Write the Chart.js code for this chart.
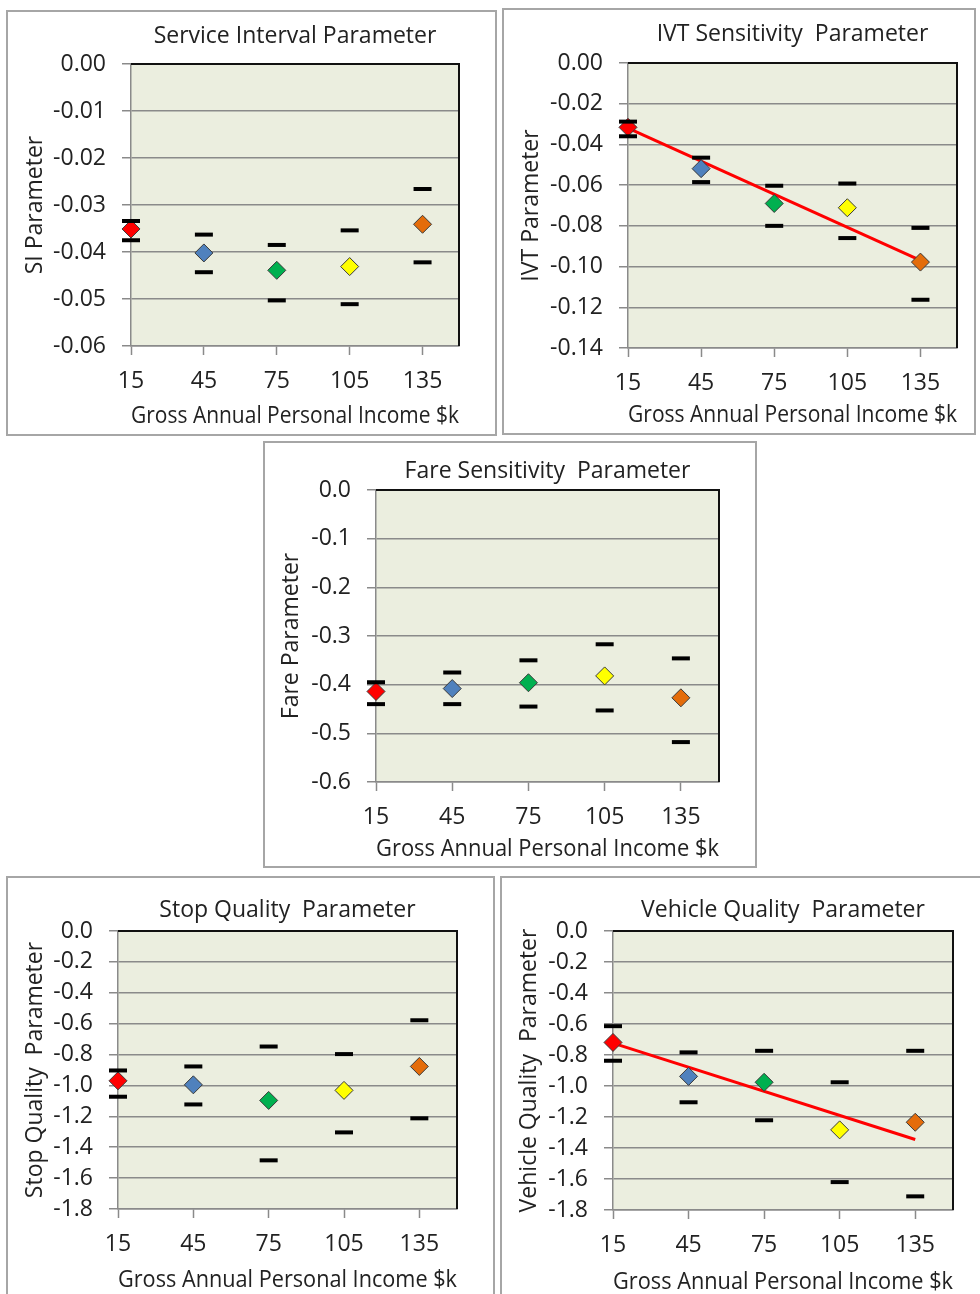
<!DOCTYPE html>
<html>
<head>
<meta charset="utf-8">
<script src="https://cdn.jsdelivr.net/npm/chart.js@4.4.0/dist/chart.umd.min.js"></script>
<style>
  body { margin: 0; background: #fff; width: 980px; height: 1294px; overflow: hidden; position: relative; }
  .panel { position: absolute; }
  .panel canvas { position: absolute; left: 0; top: 0; }
  .frame { position: absolute; left: 0; top: 0; right: 0; bottom: 0; border: 2px solid #a6a6a6; box-sizing: border-box; pointer-events: none; }
</style>
</head>
<body>
<div class="panel" id="p1"><canvas id="c1"></canvas><div class="frame"></div></div>
<div class="panel" id="p2"><canvas id="c2"></canvas><div class="frame"></div></div>
<div class="panel" id="p3"><canvas id="c3"></canvas><div class="frame"></div></div>
<div class="panel" id="p4"><canvas id="c4"></canvas><div class="frame"></div></div>
<div class="panel" id="p5"><canvas id="c5"></canvas><div class="frame"></div></div>
<script>
// income groups ($k)
const incomeK = [15, 45, 75, 105, 135];
const pointColors = ['#ff0000', '#4f81bd', '#00b050', '#ffff00', '#e46c0a'];
const xAxisTitle = 'Gross Annual Personal Income $k';

// service interval
const siEst  = [-0.0351, -0.0402, -0.0439, -0.0431, -0.0341];
const siHigh = [-0.0334, -0.0363, -0.0385, -0.0354, -0.0266];
const siLow  = [-0.0375, -0.0443, -0.0503, -0.0511, -0.0422];
const siTicks = [0, -0.01, -0.02, -0.03, -0.04, -0.05, -0.06];

// in-vehicle time
const ivtEst  = [-0.0316, -0.0519, -0.0690, -0.0711, -0.0978];
const ivtHigh = [-0.0288, -0.0465, -0.0603, -0.0592, -0.0810];
const ivtLow  = [-0.0360, -0.0585, -0.0800, -0.0860, -0.1163];
const ivtTrendX = [15, 135];
const ivtTrendY = [-0.032, -0.097];
const ivtTicks = [0, -0.02, -0.04, -0.06, -0.08, -0.10, -0.12, -0.14];

// fare
const fareEst  = [-0.414, -0.408, -0.396, -0.382, -0.427];
const fareHigh = [-0.395, -0.375, -0.350, -0.317, -0.346];
const fareLow  = [-0.440, -0.440, -0.445, -0.453, -0.518];
const fareTicks = [0, -0.1, -0.2, -0.3, -0.4, -0.5, -0.6];

// stop quality
const stopEst  = [-0.970, -0.996, -1.097, -1.032, -0.877];
const stopHigh = [-0.903, -0.877, -0.748, -0.797, -0.578];
const stopLow  = [-1.073, -1.123, -1.485, -1.304, -1.213];

// vehicle quality
const vehEst  = [-0.719, -0.938, -0.976, -1.283, -1.234];
const vehHigh = [-0.614, -0.783, -0.773, -0.976, -0.773];
const vehLow  = [-0.837, -1.105, -1.221, -1.620, -1.712];
const vehTrendX = [15, 135];
const vehTrendY = [-0.723, -1.345];
const qualityTicks = [0, -0.2, -0.4, -0.6, -0.8, -1.0, -1.2, -1.4, -1.6, -1.8];

const FONT = '"Open Sans", "DejaVu Sans", sans-serif';
const FS = 23;
const TXT = '#222';
const GRID = '#8a8a8a';

function pts(xs, ys) {
  return xs.map((x, i) => ({ x: x, y: ys[i] }));
}

// plot background + dark top/right border
const plotFrame = {
  id: 'plotFrame',
  beforeDraw(chart) {
    const a = chart.chartArea, ctx = chart.ctx;
    ctx.save();
    ctx.fillStyle = '#ebeedf';
    ctx.fillRect(a.left, a.top, a.right - a.left, a.bottom - a.top);
    ctx.restore();
  },
  beforeDatasetsDraw(chart) {
    const a = chart.chartArea, ctx = chart.ctx;
    ctx.save();
    ctx.strokeStyle = '#111';
    ctx.lineWidth = 2;
    ctx.beginPath();
    ctx.moveTo(a.left, a.top);
    ctx.lineTo(a.right, a.top);
    ctx.lineTo(a.right, a.bottom);
    ctx.stroke();
    ctx.restore();
  }
};

function makePanel(p) {
  const div = document.getElementById(p.div);
  div.style.left = p.box[0] + 'px';
  div.style.top = p.box[1] + 'px';
  div.style.width = p.box[2] + 'px';
  div.style.height = p.box[3] + 'px';
  const cv = document.getElementById(p.canvas);
  cv.width = p.box[2];
  cv.height = p.box[3];

  const lh = FS * 1.2;
  const datasets = [];
  if (p.trendX) {
    datasets.push({
      data: pts(p.trendX, p.trendY),
      showLine: true,
      borderColor: '#ff0000',
      borderWidth: 3,
      pointRadius: 0,
      clip: false,
      order: 3
    });
  }
  datasets.push({
    data: pts(incomeK, p.est),
    pointStyle: 'rectRot',
    pointRadius: 9,
    pointBackgroundColor: pointColors,
    pointBorderColor: '#3a3a3a',
    pointBorderWidth: 1,
    clip: false,
    order: 2
  });
  [p.high, p.low].forEach(arr => {
    datasets.push({
      data: pts(incomeK, arr),
      pointStyle: 'line',
      pointRadius: 9,
      pointBorderColor: '#000',
      pointBorderWidth: 4,
      clip: false,
      order: 1
    });
  });

  const yTicks = p.ticks;
  new Chart(cv, {
    type: 'scatter',
    data: { datasets: datasets },
    plugins: [plotFrame],
    options: {
      responsive: false,
      animation: false,
      devicePixelRatio: 1,
      layout: { padding: { left: 0, top: 0, right: p.inset[2], bottom: 0 } },
      plugins: {
        legend: { display: false },
        tooltip: { enabled: false },
        title: {
          display: true,
          text: p.title,
          fullSize: false,
          color: TXT,
          font: { family: FONT, size: FS, weight: 'normal' },
          padding: { top: p.titleY - lh / 2, bottom: p.inset[1] - p.titleY - lh / 2 }
        }
      },
      scales: {
        x: {
          type: 'linear',
          min: 15,
          max: 150,
          afterBuildTicks: s => { s.ticks = incomeK.map(v => ({ value: v })); },
          afterFit: s => { s.height = p.inset[3]; },
          grid: { drawOnChartArea: false, drawTicks: true, tickLength: 9, tickColor: GRID, tickWidth: 1.5 },
          border: { color: GRID, width: 1.5 },
          ticks: { color: TXT, padding: 12.5, font: { family: FONT, size: FS } },
          title: {
            display: true,
            text: xAxisTitle,
            color: TXT,
            font: { family: FONT, size: FS },
            padding: { top: 0, bottom: p.xTitleOff - lh / 2 }
          }
        },
        y: {
          type: 'linear',
          min: Math.min(...yTicks),
          max: Math.max(...yTicks),
          afterBuildTicks: s => { s.ticks = yTicks.map(v => ({ value: v })); },
          afterFit: s => { s.width = p.inset[0]; },
          grid: { color: GRID, lineWidth: 1.5, drawTicks: true, tickLength: 9, tickColor: GRID },
          border: { color: GRID, width: 1.5 },
          ticks: {
            color: TXT,
            padding: 16,
            font: { family: FONT, size: FS },
            callback: v => Number(v).toFixed(p.dec)
          },
          title: {
            display: true,
            text: p.yTitle,
            color: TXT,
            font: { family: FONT, size: FS },
            padding: { top: p.yTitleX - lh / 2, bottom: 0 }
          }
        }
      }
    }
  });
}

makePanel({ div: 'p1', canvas: 'c1', box: [6, 10, 491, 426], inset: [125, 54, 38, 90],
  titleY: 26.7, yTitleX: 29, xTitleOff: 19.3,
  title: 'Service Interval Parameter', yTitle: 'SI Parameter',
  est: siEst, high: siHigh, low: siLow, ticks: siTicks, dec: 2 });

makePanel({ div: 'p2', canvas: 'c2', box: [502, 8, 474, 427], inset: [126, 55, 19, 87],
  titleY: 26.7, yTitleX: 29.7, xTitleOff: 20,
  title: 'IVT Sensitivity  Parameter', yTitle: 'IVT Parameter',
  est: ivtEst, high: ivtHigh, low: ivtLow, ticks: ivtTicks, dec: 2,
  trendX: ivtTrendX, trendY: ivtTrendY });

makePanel({ div: 'p3', canvas: 'c3', box: [263, 441, 494, 427], inset: [113, 49, 38, 86],
  titleY: 30.3, yTitleX: 28.4, xTitleOff: 18.3,
  title: 'Fare Sensitivity  Parameter', yTitle: 'Fare Parameter',
  est: fareEst, high: fareHigh, low: fareLow, ticks: fareTicks, dec: 1 });

makePanel({ div: 'p4', canvas: 'c4', box: [6, 876, 489, 422], inset: [112, 55, 38, 89],
  titleY: 34, yTitleX: 29, xTitleOff: 18,
  title: 'Stop Quality  Parameter', yTitle: 'Stop Quality  Parameter',
  est: stopEst, high: stopHigh, low: stopLow, ticks: qualityTicks, dec: 1 });

makePanel({ div: 'p5', canvas: 'c5', box: [500, 876, 485, 422], inset: [113, 55, 32, 88],
  titleY: 34, yTitleX: 29.3, xTitleOff: 15.3,
  title: 'Vehicle Quality  Parameter', yTitle: 'Vehicle Quality  Parameter',
  est: vehEst, high: vehHigh, low: vehLow, ticks: qualityTicks, dec: 1,
  trendX: vehTrendX, trendY: vehTrendY });
</script>
</body>
</html>
